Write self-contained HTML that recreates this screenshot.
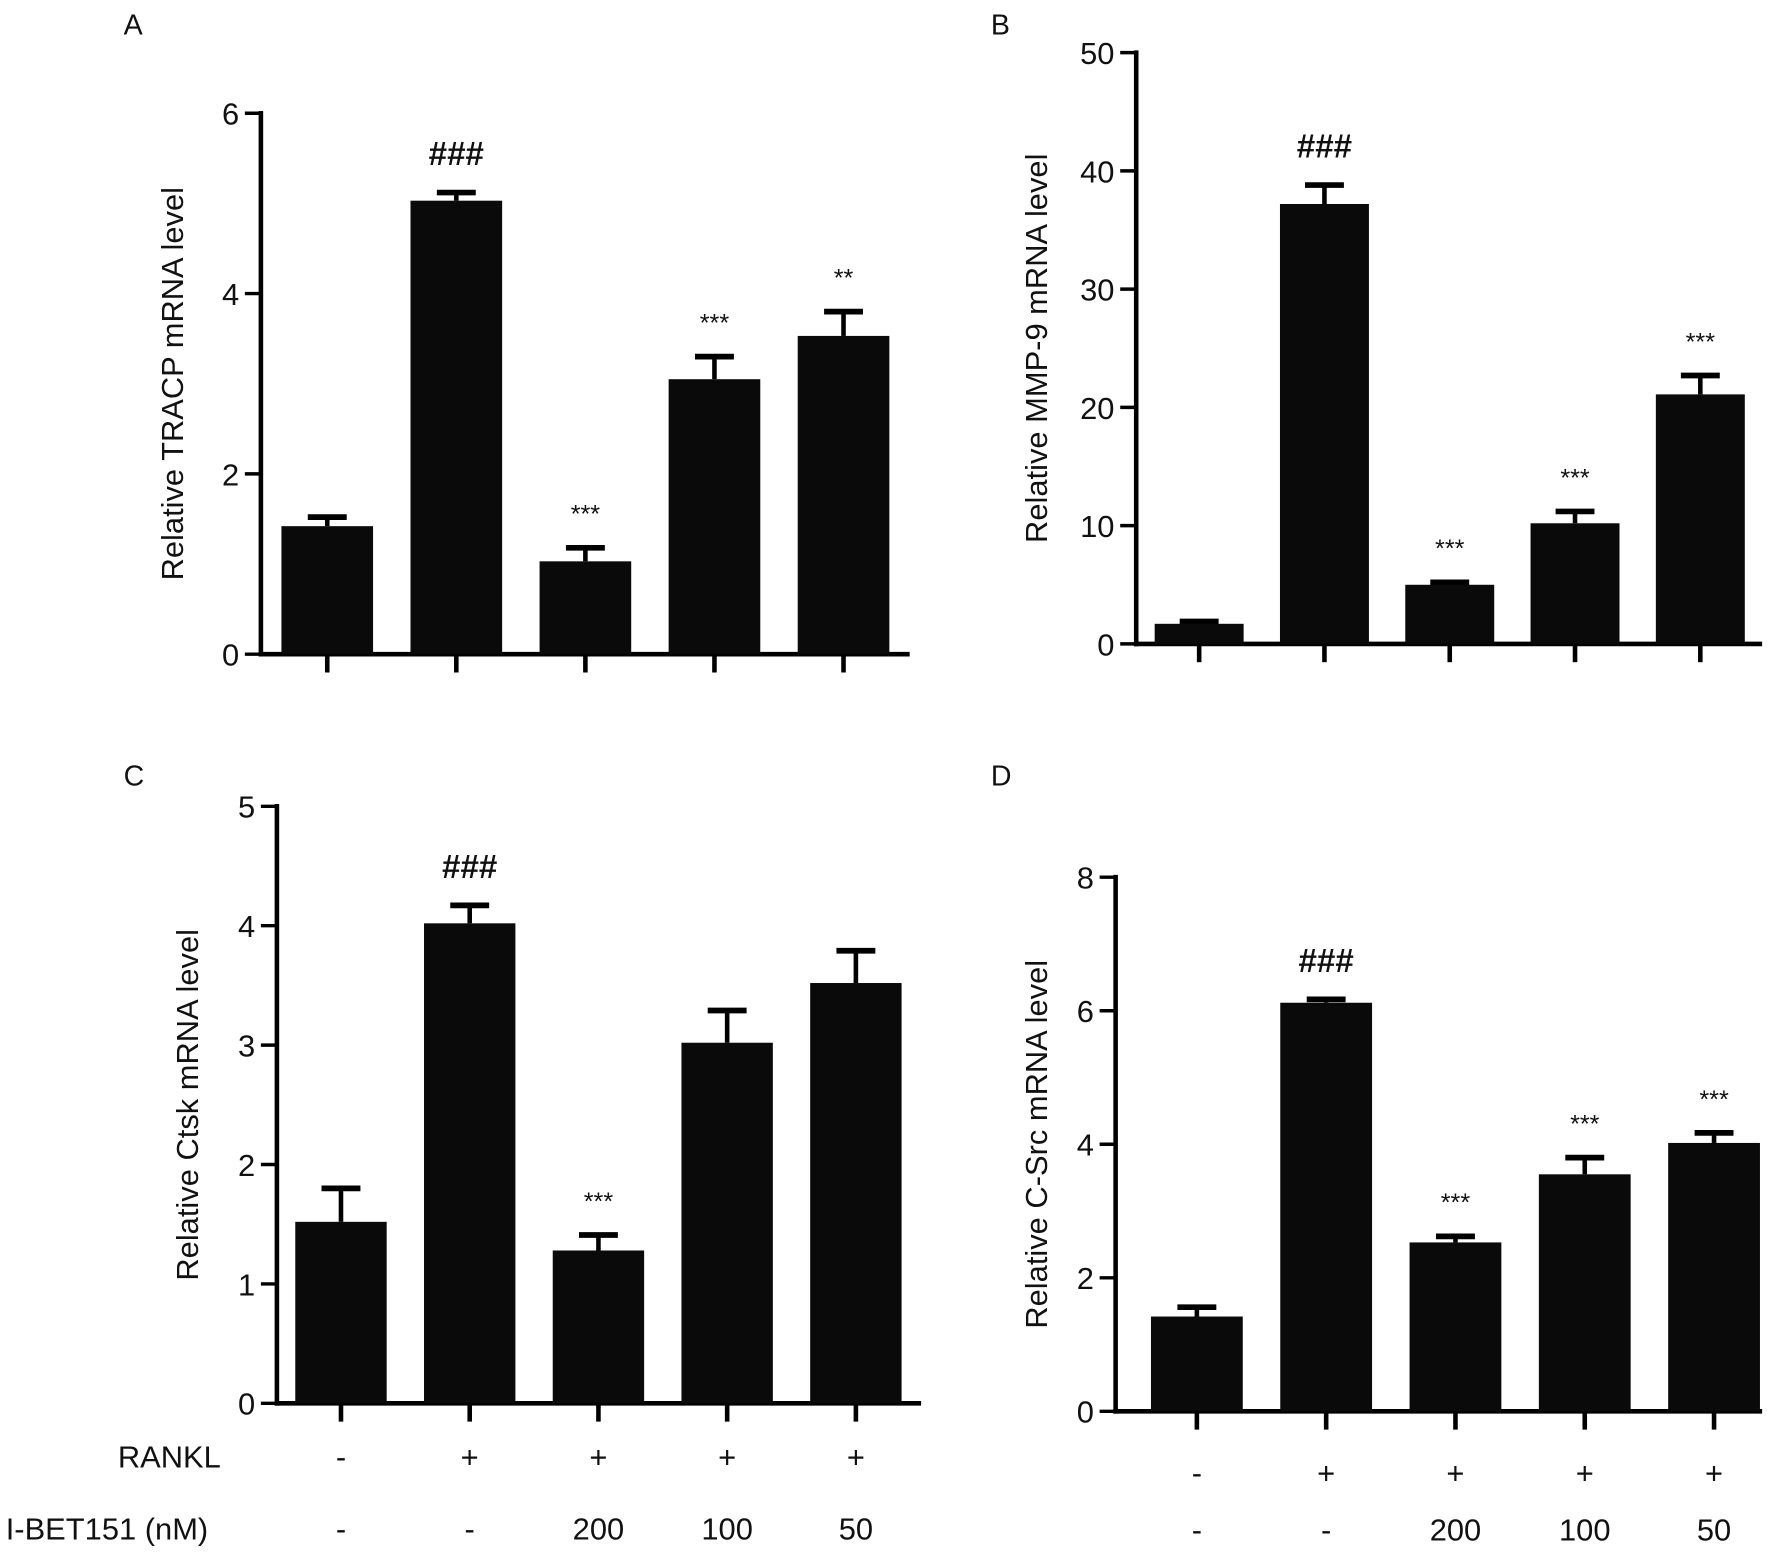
<!DOCTYPE html>
<html><head><meta charset="utf-8"><style>
html,body{margin:0;padding:0;background:#fff;}
svg{display:block;}
text{font-family:"Liberation Sans",Arial,sans-serif;fill:#111;}
</style></head><body>
<svg id="fig" width="1785" height="1552" viewBox="0 0 1560 1357" preserveAspectRatio="none" xmlns="http://www.w3.org/2000/svg"></svg>
<script>
const categories = ["ctrl","RANKL","RANKL+200","RANKL+100","RANKL+50"];
const rankl = ["-","+","+","+","+"];
const ibet = ["-","-","200","100","50"];
const valuesA = [1.42,5.03,1.03,3.05,3.53];
const errA = [0.10,0.09,0.15,0.25,0.27];
const marksA = ["","###","***","***","**"];
const ticksA = [0,2,4,6];
const valuesB = [1.7,37.2,5.0,10.2,21.1];
const errB = [0.2,1.6,0.2,1.0,1.6];
const marksB = ["","###","***","***","***"];
const ticksB = [0,10,20,30,40,50];
const valuesC = [1.52,4.02,1.28,3.02,3.52];
const errC = [0.28,0.15,0.13,0.27,0.27];
const marksC = ["","###","***","",""];
const ticksC = [0,1,2,3,4,5];
const valuesD = [1.42,6.12,2.53,3.55,4.02];
const errD = [0.14,0.05,0.09,0.25,0.15];
const marksD = ["","###","***","***","***"];
const ticksD = [0,2,4,6,8];

const svg = document.getElementById('fig');
const NS = 'http://www.w3.org/2000/svg';
function mk(tag, attrs, parent){const e=document.createElementNS(NS,tag);for(const k in attrs)e.setAttribute(k,attrs[k]);(parent||svg).appendChild(e);return e;}

function panel(p){
  const g = mk('g',{});
  
  
  const ymax = p.ticks[p.ticks.length-1];
  const y = v => p.y0 - (v/ymax)*(p.y0-p.yTop);
  const x = i => p.x1 + p.step*i;
  const lab = mk('text',{x:p.lx,y:p.ly,'font-size':25},g); lab.textContent=p.letter;
  
  
  const ya = mk('line',{x1:p.ax,y1:p.yTop-2,x2:p.ax,y2:p.y0+2,stroke:'#000','stroke-width':4},g);
  
  
  const xa = mk('line',{x1:p.ax-2,y1:p.y0,x2:p.axEnd,y2:p.y0,stroke:'#000','stroke-width':4},g);
  
  
  p.ticks.forEach(t=>{
    mk('line',{x1:p.ax-14,y1:y(t),x2:p.ax,y2:y(t),stroke:'#000','stroke-width':3},g);
    const tl = mk('text',{x:p.ax-19,y:y(t)+10,'font-size':27,'text-anchor':'end'},g); tl.textContent=t;
    
    
  });
  const yt = mk('text',{x:0,y:0,'font-size':27,'text-anchor':'middle',transform:`translate(${p.ylx},${(p.yTop+p.y0)/2}) rotate(-90)`},g);
  yt.textContent=p.title;
  
  
  const bw = p.step*0.71;
  p.values.forEach((v,i)=>{
    const cx=x(i);
    mk('line',{x1:cx,y1:p.y0,x2:cx,y2:p.y0+16,stroke:'#000','stroke-width':4},g);
    const top=y(v+p.err[i]);
    mk('line',{x1:cx,y1:y(v),x2:cx,y2:top,stroke:'#000','stroke-width':4},g);
    mk('line',{x1:cx-17,y1:top,x2:cx+17,y2:top,stroke:'#000','stroke-width':5},g);
    const b = mk('rect',{x:cx-bw/2,y:y(v),width:bw,height:p.y0-y(v),fill:'#0a0a0a'},g);
    
    
    if(p.marks[i]){
      const hash = p.marks[i].startsWith('#');
      const m = mk('text',{x:cx,y:top-(hash?24:22),'font-size':hash?29:22,'font-weight':hash?'bold':'normal','text-anchor':'middle',fill:'#333'},g);
      m.textContent=p.marks[i];
      
      
    }
    if(p.rowY){
      const r = mk('text',{x:cx,y:p.rowY,'font-size':27,'text-anchor':'middle'},g); r.textContent=rankl[i];
      
      
      const q = mk('text',{x:cx,y:p.rowY2,'font-size':27,'text-anchor':'middle'},g); q.textContent=ibet[i];
      
      
    }
  });
}
panel({letter:'A',lx:108,ly:30,ax:228,axEnd:795,y0:572,yTop:99,x1:286,step:112.8,ticks:ticksA,values:valuesA,err:errA,marks:marksA,title:'Relative TRACP mRNA level',ylx:160});
panel({letter:'B',lx:866,ly:30,ax:993,axEnd:1540,y0:563,yTop:46,x1:1048,step:109.5,ticks:ticksB,values:valuesB,err:errB,marks:marksB,title:'Relative MMP-9 mRNA level',ylx:915});
panel({letter:'C',lx:108,ly:687,ax:242,axEnd:805,y0:1227,yTop:705,x1:298,step:112.5,ticks:ticksC,values:valuesC,err:errC,marks:marksC,title:'Relative Ctsk mRNA level',ylx:173,rowY:1283,rowY2:1346});
panel({letter:'D',lx:866,ly:687,ax:975,axEnd:1540,y0:1234,yTop:767,x1:1046,step:113,ticks:ticksD,values:valuesD,err:errD,marks:marksD,title:'Relative C-Src mRNA level',ylx:915,rowY:1297,rowY2:1347});
const r1 = mk('text',{x:103,y:1283,'font-size':27}); r1.textContent='RANKL';


const r2 = mk('text',{x:5,y:1346,'font-size':27}); r2.textContent='I-BET151 (nM)';


</script>
</body></html>
